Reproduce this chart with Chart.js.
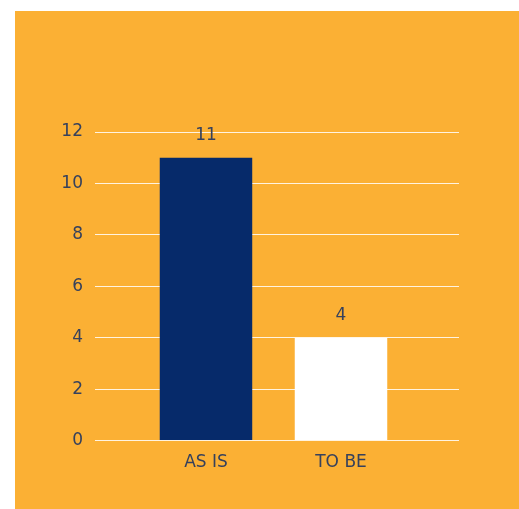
<!DOCTYPE html>
<html>
<head>
<meta charset="utf-8">
<script src="https://cdn.jsdelivr.net/npm/chart.js@4/dist/chart.umd.min.js"></script>
<style>
  html, body { margin: 0; padding: 0; background: #ffffff; }
  #wrap { position: absolute; left: 15px; top: 11px; width: 504px; height: 498px; background: #fbb034; }
</style>
</head>
<body>
<div id="wrap"><canvas id="chart"></canvas></div>
<script>
const categories = ['AS IS', 'TO BE'];
const values = [11, 4];
const barColors = ['#062a6a', '#ffffff'];
const yTicks = [0, 2, 4, 6, 8, 10, 12];

const textColor = '#36415c';
const fontFamily = "'DejaVu Sans', sans-serif";

// bar value labels drawn above each bar
const valueLabels = {
  id: 'valueLabels',
  afterDatasetsDraw(chart) {
    const ctx = chart.ctx;
    const meta = chart.getDatasetMeta(0);
    ctx.save();
    ctx.fillStyle = textColor;
    ctx.font = '17px ' + fontFamily;
    ctx.textAlign = 'center';
    ctx.textBaseline = 'middle';
    meta.data.forEach((bar, i) => {
      ctx.fillText(String(values[i]), bar.x, bar.y - 22);
    });
    ctx.restore();
  }
};

const config = {
  type: 'bar',
  data: {
    datasets: [{
      data: categories.map((c, i) => ({ x: i + 1, y: values[i] })),
      backgroundColor: barColors,
      borderWidth: 0,
      barPercentage: 0.685,
      categoryPercentage: 1
    }]
  },
  options: {
    responsive: true,
    maintainAspectRatio: false,
    animation: false,
    layout: { padding: { top: 121, right: 60, bottom: 32, left: 0 } },
    plugins: {
      legend: { display: false },
      tooltip: { enabled: false }
    },
    scales: {
      x: {
        type: 'linear',
        min: 0.178,
        max: 2.874,
        offset: false,
        grid: { display: false, offset: false },
        border: { display: false },
        afterBuildTicks: (scale) => {
          scale.ticks = categories.map((c, i) => ({ value: i + 1 }));
        },
        ticks: {
          color: textColor,
          font: { family: fontFamily, size: 17 },
          padding: 4,
          callback: (value) => categories[value - 1]
        }
      },
      y: {
        min: 0,
        max: 12,
        afterBuildTicks: (scale) => {
          scale.ticks = yTicks.map(v => ({ value: v }));
        },
        afterFit: (scale) => { scale.width = 80; },
        grid: { color: 'rgba(255,255,255,0.85)', lineWidth: 1, drawTicks: false },
        border: { display: false },
        ticks: {
          color: textColor,
          font: { family: fontFamily, size: 17 },
          padding: 12
        }
      }
    }
  },
  plugins: [valueLabels]
};

new Chart(document.getElementById('chart'), config);
</script>
</body>
</html>
